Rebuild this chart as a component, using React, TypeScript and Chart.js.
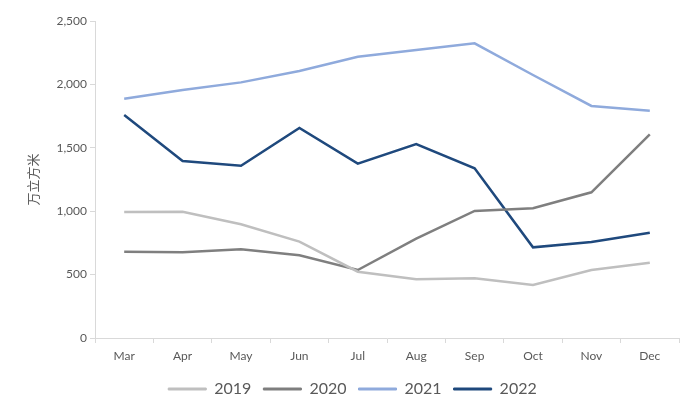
import React, { useEffect, useRef } from "react";
import { Chart, registerables } from "chart.js";

Chart.register(...registerables);

const categories = ["Mar", "Apr", "May", "Jun", "Jul", "Aug", "Sep", "Oct", "Nov", "Dec"];
const s2019 = [994, 995, 897, 760, 523, 463, 471, 418, 536, 594];
const s2020 = [681, 676, 700, 652, 536, 783, 1002, 1023, 1149, 1606];
const s2021 = [1887, 1956, 2016, 2106, 2218, 2271, 2324, 2074, 1830, 1793];
const s2022 = [1759, 1396, 1359, 1656, 1375, 1530, 1338, 715, 757, 830];
const seriesNames = ["2019", "2020", "2021", "2022"];
const seriesColors = ["#bfbfbf", "#7f7f7f", "#8faadc", "#1f497d"];
const yTitle = "万立方米";

const legendShift = {
  id: "legendShift",
  afterLayout(chart: any) {
    const lg = chart.legend;
    if (!lg) return;
    lg.left += 13;
    lg.right += 13;
  },
};

export default function App() {
  const ref = useRef<HTMLCanvasElement | null>(null);
  useEffect(() => {
    if (!ref.current) return;
    const data = [s2019, s2020, s2021, s2022];
    const chart = new Chart(ref.current, {
      type: "line",
      plugins: [legendShift],
      data: {
        labels: categories,
        datasets: data.map((d, i) => ({
          label: seriesNames[i],
          data: d,
          borderColor: seriesColors[i],
          backgroundColor: seriesColors[i],
          borderWidth: 2.5,
          pointRadius: 0,
          tension: 0,
          fill: false,
        })),
      },
      options: {
        animation: false,
        responsive: false,
        devicePixelRatio: 1,
        layout: { padding: { top: 21, right: 21, bottom: 13, left: 0 } },
        plugins: {
          tooltip: { enabled: false },
          legend: {
            position: "bottom",
            labels: {
              boxWidth: 38,
              boxHeight: 2,
              padding: 12,
              color: "#595959",
              font: { family: "Lato", size: 16 },
              generateLabels: (c: any) =>
                Chart.defaults.plugins.legend.labels.generateLabels(c).map((l: any) => ({
                  ...l,
                  lineWidth: 1,
                })),
            },
          },
        },
        scales: {
          x: {
            offset: true,
            afterFit: (s: any) => {
              s.height = 31;
            },
            grid: {
              offset: true,
              drawOnChartArea: false,
              drawTicks: true,
              tickLength: 5,
              color: "#d9d9d9",
            },
            border: { color: "#d9d9d9" },
            ticks: {
              color: "#595959",
              font: { family: "Lato", size: 12 },
              padding: 6,
              maxRotation: 0,
            },
          },
          y: {
            min: 0,
            max: 2500,
            afterFit: (s: any) => {
              s.width = 95;
            },
            grid: {
              drawOnChartArea: false,
              drawTicks: true,
              tickLength: 5,
              color: "#d9d9d9",
            },
            border: { color: "#d9d9d9" },
            ticks: {
              stepSize: 500,
              color: "#595959",
              font: { family: "Lato", size: 12 },
              padding: 3,
              callback: (v: any) => Number(v).toLocaleString("en-US"),
            },
            title: {
              display: true,
              text: yTitle,
              color: "#595959",
              font: { family: "Noto Sans CJK SC", size: 13 },
              padding: { top: 25, bottom: 0 },
            },
          },
        },
      },
    });
    return () => chart.destroy();
  }, []);
  return (
    <div style={{ position: "absolute", left: 0, top: 0, width: 700, height: 420, background: "#fff" }}>
      <canvas ref={ref} width={700} height={420} style={{ width: 700, height: 420 }} />
    </div>
  );
}
